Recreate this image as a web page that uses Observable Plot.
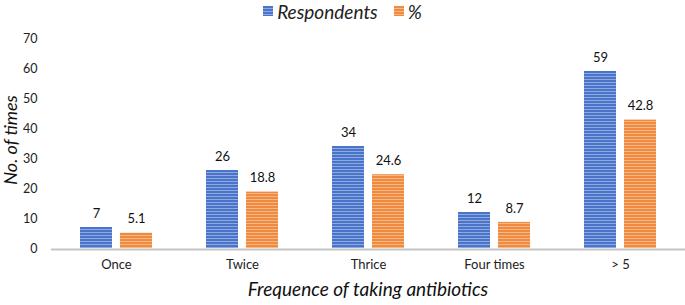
<!DOCTYPE html>
<html>
<head>
<meta charset="utf-8">
<script src="https://cdn.jsdelivr.net/npm/d3@7"></script>
<script src="https://cdn.jsdelivr.net/npm/@observablehq/plot@0.6"></script>
<style>
  html, body { margin: 0; padding: 0; background: #fff; }
  body { width: 685px; height: 305px; overflow: hidden; font-family: Lato, "Open Sans", sans-serif; }
  #wrap { position: relative; width: 685px; height: 305px; }
  #legend { position: absolute; top: 0; left: 0; width: 685px; height: 22px; display: flex; justify-content: center; align-items: center; font-style: italic; font-size: 19px; color: #222; }
  #legend .sw { display: inline-block; width: 10px; height: 10px; margin-right: 4px; }
  #plot { position: absolute; top: 0; left: 0; }
</style>
</head>
<body>
<svg width="0" height="0" style="position:absolute">
  <defs>
    <pattern id="pb" patternUnits="userSpaceOnUse" width="8" height="3">
      <rect width="8" height="3" fill="#4a74c9"/>
      <rect y="1" width="8" height="1" fill="#8eaadf"/>
    </pattern>
    <pattern id="po" patternUnits="userSpaceOnUse" width="8" height="3">
      <rect width="8" height="3" fill="#f08a3e"/>
      <rect y="1" width="8" height="1" fill="#f6b886"/>
    </pattern>
  </defs>
</svg>
<div id="wrap">
  <div id="plot"></div>
  <div id="legend">
    <span class="sw" style="background:repeating-linear-gradient(#4a74c9 0 2px,#8eaadf 2px 3px)"></span><span>Respondents</span>
    <span class="sw" style="background:repeating-linear-gradient(#f08a3e 0 2px,#f6b886 2px 3px);margin-left:16px"></span><span>%</span>
  </div>
</div>
<script>
const categories = ["Once", "Twice", "Thrice", "Four times", "> 5"];
const series = ["Respondents", "%"];
const respondents = [7, 26, 34, 12, 59];
const percent = [5.1, 18.8, 24.6, 8.7, 42.8];
const yTicks = [0, 10, 20, 30, 40, 50, 60, 70];

const respData = categories.map((c, i) => ({category: c, series: series[0], value: respondents[i]}));
const pctData = categories.map((c, i) => ({category: c, series: series[1], value: percent[i]}));

const chart = Plot.plot({
  width: 685,
  height: 305,
  marginTop: 38,
  marginBottom: 57,
  marginLeft: 51,
  marginRight: 0,
  style: {fontFamily: "Lato, 'Open Sans', sans-serif", fontSize: "13px", color: "#222", background: "white"},
  x: {domain: categories, paddingInner: 0.425, paddingOuter: 0.21, label: null},
  y: {domain: [0, 70], ticks: yTicks, label: null},
  color: {domain: series, range: ["url(#pb)", "url(#po)"]},
  marks: [
    Plot.barY(respData, {x: "category", y: "value", fill: "series", insetRight: 40}),
    Plot.barY(pctData, {x: "category", y: "value", fill: "series", insetLeft: 40}),
    Plot.text(respData, {x: "category", y: "value", text: d => String(d.value), dx: -20, dy: -14, fontSize: 13, fill: "#111"}),
    Plot.text(pctData, {x: "category", y: "value", text: d => String(d.value), dx: 20, dy: -14, fontSize: 13, fill: "#111"}),
    Plot.ruleY([0], {stroke: "#c4c4c4", strokeWidth: 2, dy: 1}),
    Plot.axisY({ticks: yTicks, tickSize: 0, tickPadding: 14, fontSize: 12.5, label: null, fill: "#222"}),
    Plot.axisX({tickSize: 0, tickPadding: 11, fontSize: 13, label: null, fill: "#222"})
  ]
});

d3.select(chart).append("text")
  .attr("transform", "translate(12,140) rotate(-90)")
  .attr("text-anchor", "middle")
  .attr("dominant-baseline", "middle")
  .style("font-style", "italic").style("font-size", "18px").attr("fill", "#111")
  .text("No. of times");
d3.select(chart).append("text")
  .attr("x", 368).attr("y", 291)
  .attr("text-anchor", "middle")
  .attr("dominant-baseline", "middle")
  .style("font-style", "italic").style("font-size", "19px").attr("fill", "#111")
  .text("Frequence of taking antibiotics");

document.getElementById("plot").appendChild(chart);
</script>
</body>
</html>
